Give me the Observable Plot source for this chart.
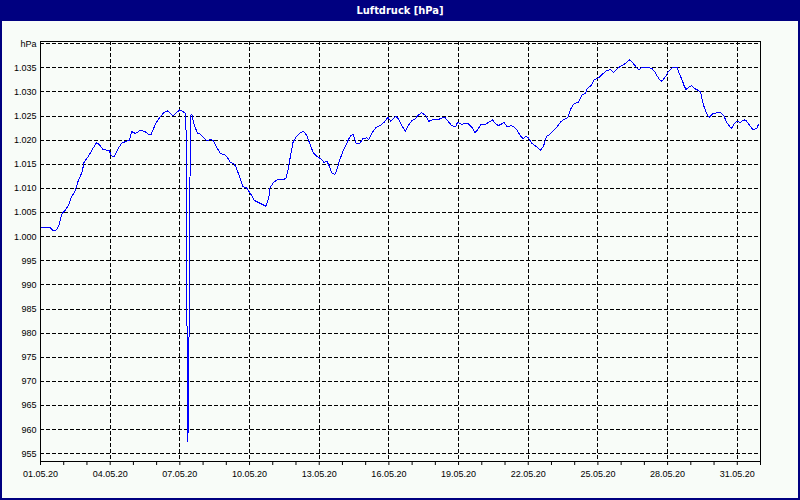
<!DOCTYPE html>
<html><head><meta charset="utf-8">
<script src="https://cdn.jsdelivr.net/npm/d3@7"></script>
<script src="https://cdn.jsdelivr.net/npm/@observablehq/plot@0.6"></script>
<style>
html,body{margin:0;padding:0;background:#f8fcf8}
#wrap{position:relative;width:800px;height:500px;background:#f8fcf8;overflow:hidden}
#title{position:absolute;left:0;top:0;width:800px;height:21px;background:#000080;color:#fff;font:bold 11px "Liberation Sans Narrow","DejaVu Sans Condensed","Liberation Sans",sans-serif;text-align:center;line-height:21px}
#chart{position:absolute;left:0;top:21px}
#border{position:absolute;left:0;top:0;width:800px;height:500px;border:2px solid #000080;box-sizing:border-box;pointer-events:none}
</style>
</head><body>
<div id="wrap"><div id="title">Luftdruck [hPa]</div><div id="chart"></div><div id="border"></div></div>
<script>
const times = [
"01.05.20 00:00","01.05.20 07:00","01.05.20 10:00","01.05.20 13:00","01.05.20 16:00","01.05.20 19:00","01.05.20 22:00",
"02.05.20 02:00","02.05.20 05:00","02.05.20 08:00","02.05.20 12:00","02.05.20 15:00","02.05.20 19:00","02.05.20 21:00",
"03.05.20 02:00","03.05.20 05:00","03.05.20 10:00","03.05.20 13:00","03.05.20 17:00","03.05.20 23:00",
"04.05.20 01:00","04.05.20 04:00","04.05.20 08:00","04.05.20 12:00","04.05.20 17:00","04.05.20 20:00","04.05.20 22:00",
"05.05.20 02:00","05.05.20 07:00","05.05.20 12:00","05.05.20 15:00","05.05.20 18:00","05.05.20 23:00",
"06.05.20 02:00","06.05.20 07:00","06.05.20 11:00","06.05.20 14:00","06.05.20 17:00","06.05.20 21:00",
"07.05.20 00:00","07.05.20 04:00","07.05.20 06:00","07.05.20 06:40","07.05.20 07:10","07.05.20 08:20","07.05.20 09:20","07.05.20 10:20","07.05.20 11:00","07.05.20 12:30","07.05.20 14:00","07.05.20 18:00","07.05.20 21:00",
"08.05.20 00:00","08.05.20 04:00","08.05.20 08:00","08.05.20 11:00","08.05.20 14:00","08.05.20 18:00","08.05.20 22:00",
"09.05.20 01:00","09.05.20 04:00","09.05.20 08:00","09.05.20 10:00","09.05.20 14:00","09.05.20 17:00","09.05.20 21:00",
"10.05.20 01:00","10.05.20 05:00","10.05.20 09:00","10.05.20 13:00","10.05.20 17:00","10.05.20 20:00","10.05.20 21:00",
"11.05.20 01:00","11.05.20 06:00","11.05.20 11:00","11.05.20 14:00","11.05.20 16:00","11.05.20 19:00","11.05.20 21:00",
"12.05.20 00:00","12.05.20 04:00","12.05.20 08:00","12.05.20 11:00","12.05.20 15:00","12.05.20 18:00","12.05.20 22:00",
"13.05.20 02:00","13.05.20 05:00","13.05.20 08:00","13.05.20 11:00","13.05.20 13:00","13.05.20 16:00","13.05.20 18:00","13.05.20 21:00",
"14.05.20 01:00","14.05.20 05:00","14.05.20 08:00","14.05.20 11:00","14.05.20 14:00","14.05.20 18:00","14.05.20 21:00",
"15.05.20 01:00","15.05.20 03:00","15.05.20 07:00","15.05.20 11:00","15.05.20 15:00","15.05.20 19:00","15.05.20 23:00",
"16.05.20 02:00","16.05.20 07:00","16.05.20 10:00","16.05.20 14:00","16.05.20 17:00","16.05.20 20:00",
"17.05.20 00:00","17.05.20 03:00","17.05.20 07:00","17.05.20 10:00","17.05.20 14:00","17.05.20 17:00","17.05.20 21:00",
"18.05.20 02:00","18.05.20 07:00","18.05.20 10:00","18.05.20 14:00","18.05.20 17:00","18.05.20 21:00","18.05.20 23:00",
"19.05.20 03:00","19.05.20 06:00","19.05.20 10:00","19.05.20 14:00","19.05.20 17:00","19.05.20 20:00","19.05.20 23:00",
"20.05.20 04:00","20.05.20 07:00","20.05.20 11:00","20.05.20 14:00","20.05.20 17:00","20.05.20 21:00","20.05.20 23:00",
"21.05.20 02:00","21.05.20 06:00","21.05.20 09:00","21.05.20 12:00","21.05.20 16:00","21.05.20 19:00","21.05.20 21:00",
"22.05.20 00:00","22.05.20 04:00","22.05.20 07:00","22.05.20 11:00","22.05.20 13:00","22.05.20 16:00","22.05.20 19:00","22.05.20 23:00",
"23.05.20 02:00","23.05.20 06:00","23.05.20 10:00","23.05.20 14:00","23.05.20 17:00","23.05.20 20:00","23.05.20 23:00",
"24.05.20 04:00","24.05.20 08:00","24.05.20 11:00","24.05.20 13:00","24.05.20 17:00","24.05.20 20:00",
"25.05.20 01:00","25.05.20 04:00","25.05.20 09:00","25.05.20 13:00","25.05.20 16:00","25.05.20 19:00","25.05.20 23:00",
"26.05.20 03:00","26.05.20 06:00","26.05.20 09:00","26.05.20 12:00","26.05.20 15:00","26.05.20 18:00","26.05.20 22:00",
"27.05.20 01:00","27.05.20 04:00","27.05.20 08:00","27.05.20 11:00","27.05.20 15:00","27.05.20 18:00","27.05.20 22:00",
"28.05.20 01:00","28.05.20 05:00","28.05.20 10:00","28.05.20 12:00","28.05.20 15:00","28.05.20 17:00","28.05.20 19:00","28.05.20 22:00",
"29.05.20 01:00","29.05.20 03:00","29.05.20 06:00","29.05.20 10:00","29.05.20 12:00","29.05.20 14:00","29.05.20 17:00","29.05.20 19:00","29.05.20 23:00",
"30.05.20 03:00","30.05.20 06:00","30.05.20 10:00","30.05.20 13:00","30.05.20 18:00","30.05.20 21:00",
"31.05.20 00:00","31.05.20 03:00","31.05.20 07:00","31.05.20 09:00","31.05.20 13:00","31.05.20 16:00","31.05.20 20:00","31.05.20 22:00"
];
const values = [
1001.9,1002.0,1001.9,1001.3,1001.3,1002.3,1004.7,
1005.6,1006.5,1008.2,1009.6,1011.6,1013.4,1015.4,
1016.8,1017.9,1019.5,1019.0,1018.0,1017.9,
1016.8,1016.5,1018.2,1019.4,1019.8,1019.9,1021.8,
1021.4,1022.0,1021.8,1021.3,1021.1,1023.4,
1024.4,1025.6,1026.1,1025.6,1025.0,1025.8,
1026.3,1025.8,1025.5,1019.3,987.5,957.4,974.4,1008.2,1025.1,1025.3,1023.7,1021.5,1021.3,
1020.6,1019.9,1020.2,1019.8,1018.5,1017.2,1017.0,
1016.5,1015.4,1015.1,1014.4,1012.3,1010.4,1010.1,
1008.9,1007.5,1007.1,1006.7,1006.3,1008.2,1010.1,
1011.3,1011.9,1011.8,1012.2,1014.1,1017.5,1019.6,
1020.6,1021.5,1021.8,1021.0,1018.9,1017.3,1016.6,
1016.1,1015.4,1015.6,1014.4,1013.2,1012.9,1013.7,1015.8,
1017.9,1019.6,1020.8,1021.2,1019.4,1019.3,1020.3,
1020.5,1020.1,1021.6,1022.7,1023.0,1023.7,1024.7,
1023.9,1025.0,1024.4,1022.8,1021.8,1023.0,
1024.1,1024.4,1025.3,1025.7,1025.1,1023.9,1024.2,
1024.2,1024.6,1024.7,1023.7,1023.0,1022.8,1023.7,
1023.3,1023.4,1023.4,1022.6,1021.6,1022.2,1023.3,
1023.3,1023.7,1024.2,1023.5,1023.0,1023.4,1023.7,
1022.8,1023.0,1022.8,1022.2,1020.9,1020.3,1020.8,
1020.5,1019.3,1018.9,1018.2,1017.9,1018.9,1020.8,1021.3,
1022.0,1022.8,1023.9,1024.4,1024.7,1026.5,1027.5,
1027.9,1029.5,1029.6,1030.7,1031.3,1032.5,
1033.0,1033.6,1034.4,1034.6,1034.0,1034.6,1035.3,
1035.7,1036.2,1036.7,1036.0,1035.3,1034.6,1035.1,
1035.0,1035.1,1034.8,1034.1,1032.7,1032.2,1033.2,
1034.3,1035.1,1035.1,1033.8,1032.5,1031.3,1030.5,1031.0,
1031.3,1030.8,1030.5,1030.0,1028.2,1026.7,1025.3,1024.7,1025.5,
1025.7,1025.8,1025.1,1023.7,1022.4,1023.5,
1023.9,1023.7,1024.2,1024.1,1023.0,1022.2,1022.4,1023.3
];
const xTickLabels = ["01.05.20","04.05.20","07.05.20","10.05.20","13.05.20","16.05.20","19.05.20","22.05.20","25.05.20","28.05.20","31.05.20"];
const yTicks = [955,960,965,970,975,980,985,990,995,1000,1005,1010,1015,1020,1025,1030,1035,1040];
const yTickLabels = ["955","960","965","970","975","980","985","990","995","1.000","1.005","1.010","1.015","1.020","1.025","1.030","1.035","hPa"];

const parseTime = d3.utcParse("%d.%m.%y %H:%M");
const parseDay = d3.utcParse("%d.%m.%y");
const data = times.map((t, i) => ({date: parseTime(t), value: values[i]}));
const xTickDates = xTickLabels.map(parseDay);
const start = xTickDates[0];
const end = d3.utcMonth.offset(start, 1);
const dayTicks = d3.utcDay.range(start, d3.utcDay.offset(end, 1));
const labelMap = new Map(xTickDates.map((d, i) => [+d, xTickLabels[i]]));
const yLabelMap = new Map(yTicks.map((v, i) => [v, yTickLabels[i]]));

const chart = Plot.plot({
  width: 800, height: 477,
  marginLeft: 40, marginRight: 40, marginTop: 20, marginBottom: 37,
  style: {background: "transparent", fontFamily: "'Liberation Sans', Arial, sans-serif", fontSize: "9px", color: "black"},
  x: {type: "utc", domain: [start, end], label: null},
  y: {domain: [953.4, 1040.45], label: null},
  marks: [
    Plot.ruleY(yTicks, {stroke: "black", strokeWidth: 1, strokeDasharray: "4,2", shapeRendering: "crispEdges"}),
    Plot.ruleX(xTickDates.slice(1), {stroke: "black", strokeWidth: 1, strokeDasharray: "4,2", shapeRendering: "crispEdges"}),
    Plot.line(data, {x: "date", y: "value", stroke: "#0000ff", strokeWidth: 1, shapeRendering: "crispEdges"}),
    Plot.frame({stroke: "black", strokeWidth: 1, shapeRendering: "crispEdges"}),
    Plot.axisY({ticks: yTicks, tickSize: 0, tickPadding: 4, label: null, tickFormat: d => yLabelMap.get(d), fill: "black"}),
    Plot.axisX({ticks: dayTicks, tickSize: 4, tickPadding: 5, label: null, tickFormat: d => labelMap.get(+d) ?? "", fill: "black", stroke: "black"})
  ]
});
document.getElementById("chart").appendChild(chart);
</script>
</body></html>
